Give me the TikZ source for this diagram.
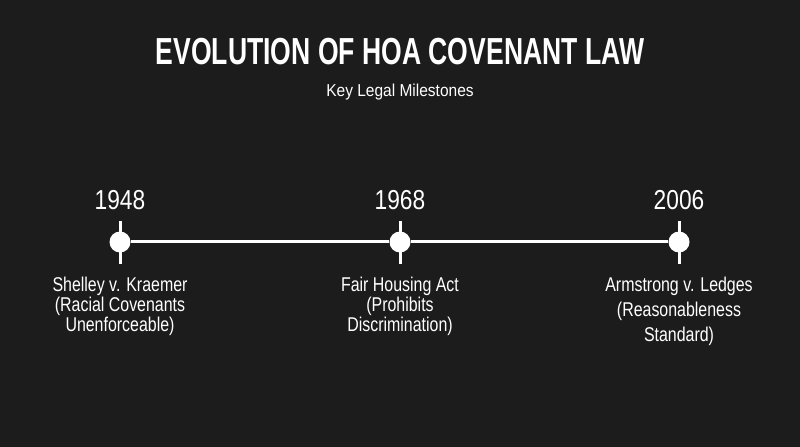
\documentclass[tikz,border=0pt]{standalone}
\usepackage{fontspec}
\setmainfont{Liberation Sans}
\newfontfamily\titlefont[FakeStretch=0.705]{Liberation Sans}
\newfontfamily\bodyfont[FakeStretch=0.80]{Liberation Sans}
\newfontfamily\yearfont[FakeStretch=0.83]{Liberation Sans}
\newfontfamily\subfont[FakeStretch=0.90]{Liberation Sans}
\definecolor{bgc}{HTML}{1C1C1C}
\tikzset{
  title/.style={text=white, inner sep=0, anchor=base, font=\titlefont\bfseries\fontsize{37.8}{40}\selectfont},
  subtitle/.style={text=white, inner sep=0, anchor=base, font=\subfont\fontsize{17.3}{20}\selectfont},
  year/.style={text=white, inner sep=0, anchor=base, font=\yearfont\fontsize{27.5}{28}\selectfont},
  event/.style={text=white, inner sep=0, anchor=north, align=center, font=\bodyfont\fontsize{20}{20}\selectfont},
  eventwide/.style={event, font=\bodyfont\fontsize{20}{25}\selectfont},
  dot/.style={circle, fill=white, minimum size=21bp, inner sep=0},
  axis/.style={draw=white, line width=3bp},
  tickmark/.style={draw=white, line width=3bp}
}
\begin{document}
\begin{tikzpicture}[x=1bp,y=-1bp]
\fill[bgc] (0,0) rectangle (800,447);
\node[title] (title) at (400,65) {EVOLUTION OF HOA COVENANT LAW};
\node[subtitle] (sub) at (400,97) {Key Legal Milestones};
% ticks
\coordinate (t1a) at (120,221); \coordinate (t1b) at (120,264);
\coordinate (t2a) at (400,221); \coordinate (t2b) at (400,264);
\coordinate (t3a) at (679,221); \coordinate (t3b) at (679,264);
\draw[tickmark] (t1a) -- (t1b);
\draw[tickmark] (t2a) -- (t2b);
\draw[tickmark] (t3a) -- (t3b);
\node[dot] (p1) at (120,242) {};
\node[dot] (p2) at (400,242) {};
\node[dot] (p3) at (679,242) {};
\draw[axis] (p1) -- (p2);
\draw[axis] (p2) -- (p3);
\node[year] (y1) at (120,210) {1948};
\node[year] (y2) at (400,210) {1968};
\node[year] (y3) at (679,210) {2006};
\node[event] (e1) at (120,277) {Shelley v. Kraemer\\(Racial Covenants\\Unenforceable)};
\node[event] (e2) at (400,277) {Fair Housing Act\\(Prohibits\\Discrimination)};
\node[eventwide] (e3) at (679,277) {Armstrong v. Ledges\\(Reasonableness\\Standard)};
\end{tikzpicture}
\end{document}
